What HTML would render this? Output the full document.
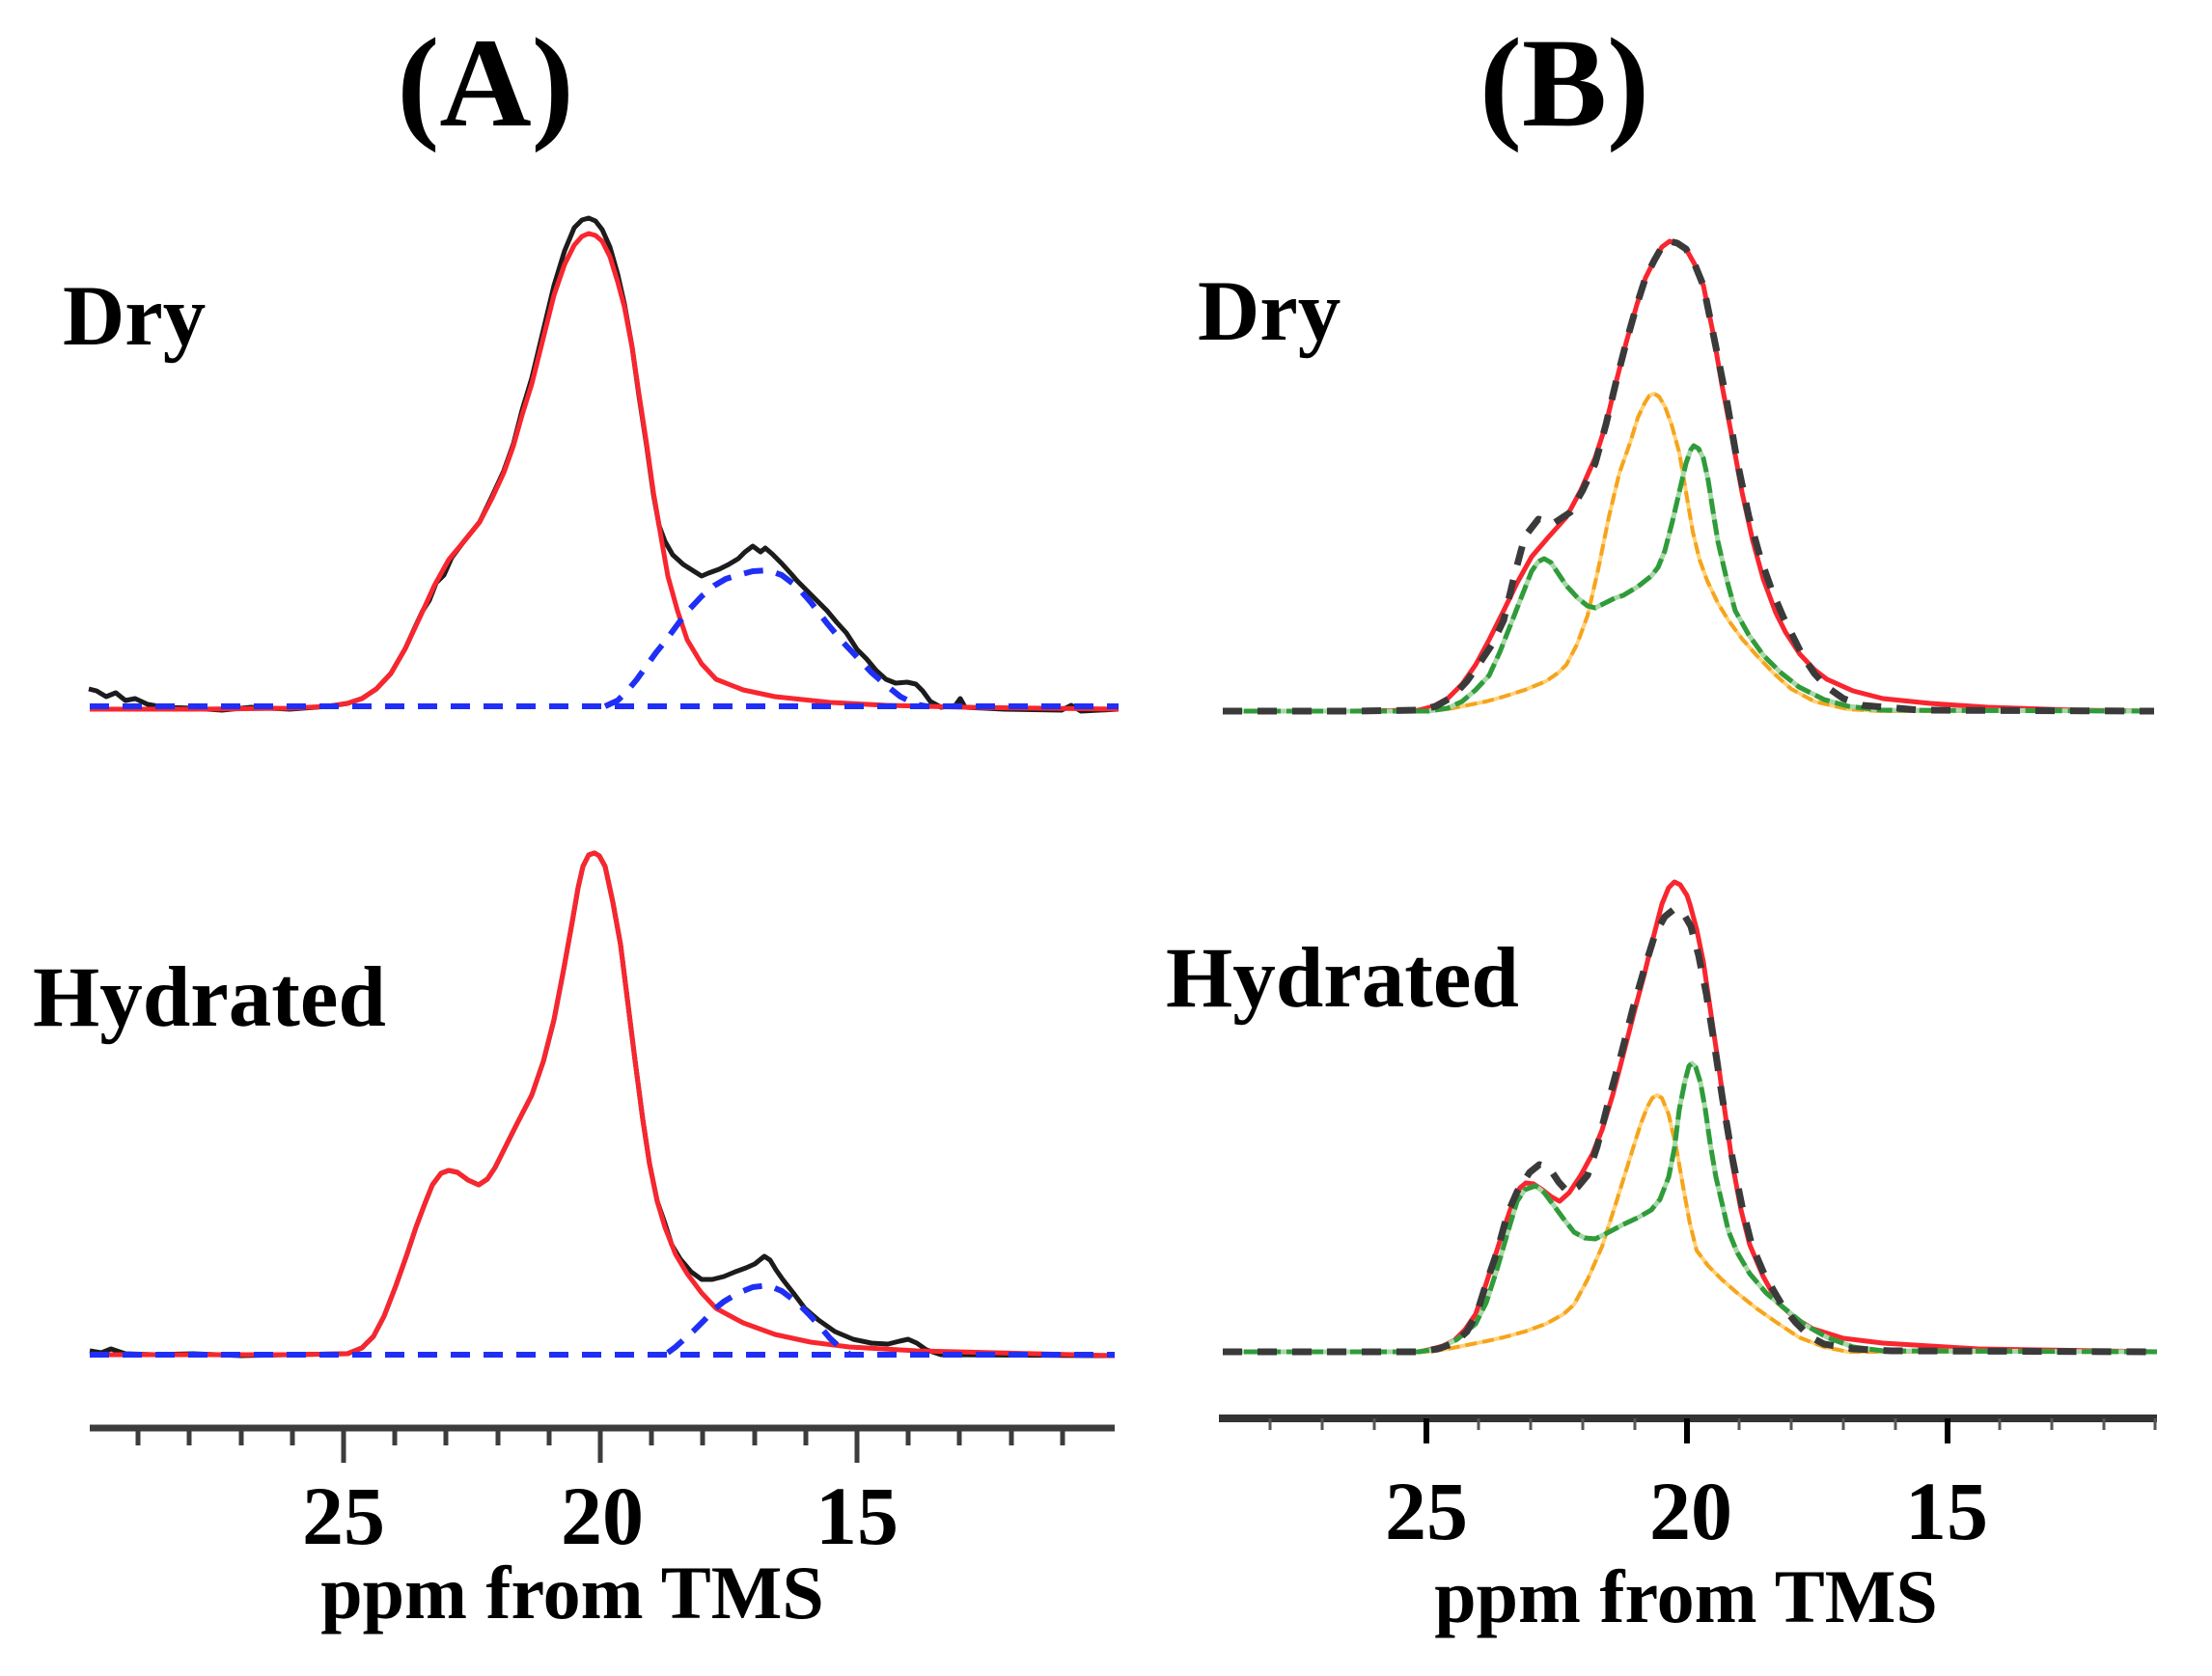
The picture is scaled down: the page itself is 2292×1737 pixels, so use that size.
<!DOCTYPE html>
<html>
<head>
<meta charset="utf-8">
<style>
html,body{margin:0;padding:0;background:#fff;}
svg{display:block;}
text{font-family:"Liberation Serif","Times New Roman",serif;font-weight:bold;fill:#000;}
</style>
</head>
<body>
<svg width="2292" height="1737" viewBox="0 0 2292 1737" xmlns="http://www.w3.org/2000/svg">
<rect width="2292" height="1737" fill="#fff"/>

<!-- Titles -->
<text x="503" y="130" font-size="132" text-anchor="middle">(A)</text>
<text x="1621" y="130" font-size="132" text-anchor="middle">(B)</text>

<!-- Labels -->
<text x="65" y="357" font-size="89">Dry</text>
<text x="1241" y="352" font-size="89">Dry</text>
<text x="34" y="1063" font-size="89">Hydrated</text>
<text x="1208" y="1043" font-size="89">Hydrated</text>

<!-- ============ PANEL A, DRY ============ -->
<polyline fill="none" stroke="#1c1c1c" stroke-width="5" stroke-linejoin="round" points="
92,714 100,716 110,722 120,718 130,726 140,724 153,730 170,733 200,734 230,736 260,733 300,735 340,732 360,729 375,724 390,714 405,698 420,672 430,650 438,633 445,622 452,604 460,596 468,578 480,562 497,541 510,514 522,488 532,460 541,425 551,392 563,342 574,296 585,260 595,236 603,228 610,226 617,229 624,238 632,256 640,284 647,315 655,360 662,410 670,462 677,512 683,545 689,561 697,575 708,585 719,592 727,597 734,594 745,590 755,585 765,579 772,572 780,566 788,572 793,568 800,574 810,584 820,595 826,602 836,612 846,622 857,633 867,645 877,656 888,673 898,683 908,695 918,704 928,708 940,707 949,709 956,716 964,727 975,733 990,731 995,724 1000,733 1040,735 1100,736 1110,731 1120,737 1159,735"/>
<polyline fill="none" stroke="#f8262f" stroke-width="5" stroke-linejoin="round" points="
93,735 200,735 300,734 340,732 360,729 375,724 390,714 405,698 420,672 435,640 450,607 465,580 480,562 497,541 510,516 522,490 532,462 541,430 551,398 563,350 574,306 585,274 595,254 603,245 610,242 617,244 624,250 632,266 640,292 647,318 655,360 662,408 670,460 677,510 685,557 692,597 702,633 712,663 727,688 742,704 770,715 803,722 860,728 918,731 1000,733 1159,735"/>
<line x1="93" y1="732" x2="1159" y2="732" stroke="#1f2ff5" stroke-width="6" stroke-dasharray="20 14"/>
<polyline fill="none" stroke="#1f2ff5" stroke-width="6" stroke-dasharray="20 14" stroke-linejoin="round" points="
627,732 640,726 650,716 660,704 670,690 680,676 689,665 700,650 712,634 727,618 740,607 752,600 765,596 780,592 796,591 810,596 826,608 840,624 857,646 872,664 888,681 903,697 918,710 933,722 949,730 960,732"/>

<!-- ============ PANEL A, HYDRATED ============ -->
<polyline fill="none" stroke="#1c1c1c" stroke-width="5" stroke-linejoin="round" points="
93,1400 105,1402 115,1398 130,1403 160,1404 200,1403 250,1405 300,1404 360,1403 375,1397 387,1385 398,1364 410,1333 421,1302 431,1272 440,1248 448,1228 457,1216 465,1213 474,1215 485,1223 496,1228 505,1222 513,1210 520,1196 535,1166 551,1135 563,1100 574,1057 584,1005 593,955 599,920 604,898 610,886 616,884 621,887 627,898 635,935 643,979 650,1035 658,1099 666,1160 673,1206 681,1245 689,1268 696,1290 705,1305 716,1318 727,1326 738,1326 750,1323 762,1318 773,1314 782,1310 792,1302 798,1306 804,1316 811,1326 822,1340 834,1356 848,1368 865,1380 884,1388 903,1392 920,1393 932,1390 941,1388 950,1392 960,1399 975,1404 1155,1405"/>
<polyline fill="none" stroke="#f8262f" stroke-width="5" stroke-linejoin="round" points="
93,1404 300,1404 360,1403 375,1397 387,1385 398,1364 410,1333 421,1302 431,1272 440,1248 448,1228 457,1216 465,1213 474,1215 485,1223 496,1228 505,1222 513,1210 520,1196 535,1166 551,1135 563,1100 574,1057 584,1005 593,955 599,920 604,898 610,886 616,884 621,887 627,898 635,935 643,979 650,1035 658,1099 666,1160 673,1206 681,1245 689,1272 700,1300 712,1320 727,1340 742,1356 770,1371 803,1383 840,1391 880,1396 950,1400 1155,1405"/>
<line x1="93" y1="1404" x2="1155" y2="1404" stroke="#1f2ff5" stroke-width="6" stroke-dasharray="20 14"/>
<polyline fill="none" stroke="#1f2ff5" stroke-width="6" stroke-dasharray="20 14" stroke-linejoin="round" points="
692,1402 700,1396 710,1387 719,1379 730,1368 740,1357 750,1349 765,1340 780,1334 796,1332 810,1338 826,1350 838,1362 849,1374 860,1387 872,1398 880,1403"/>

<!-- ============ PANEL A AXIS ============ -->
<line x1="93" y1="1480" x2="1155" y2="1480" stroke="#3c3c3c" stroke-width="7"/>
<g stroke="#3c3c3c" stroke-width="5">
<line x1="143" y1="1480" x2="143" y2="1498"/>
<line x1="196" y1="1480" x2="196" y2="1498"/>
<line x1="250" y1="1480" x2="250" y2="1498"/>
<line x1="303" y1="1480" x2="303" y2="1498"/>
<line x1="356" y1="1480" x2="356" y2="1516"/>
<line x1="409" y1="1480" x2="409" y2="1498"/>
<line x1="462" y1="1480" x2="462" y2="1498"/>
<line x1="516" y1="1480" x2="516" y2="1498"/>
<line x1="569" y1="1480" x2="569" y2="1498"/>
<line x1="622" y1="1480" x2="622" y2="1516"/>
<line x1="675" y1="1480" x2="675" y2="1498"/>
<line x1="728" y1="1480" x2="728" y2="1498"/>
<line x1="782" y1="1480" x2="782" y2="1498"/>
<line x1="835" y1="1480" x2="835" y2="1498"/>
<line x1="888" y1="1480" x2="888" y2="1516"/>
<line x1="941" y1="1480" x2="941" y2="1498"/>
<line x1="994" y1="1480" x2="994" y2="1498"/>
<line x1="1048" y1="1480" x2="1048" y2="1498"/>
<line x1="1101" y1="1480" x2="1101" y2="1498"/>
</g>
<text x="356" y="1600" font-size="86" text-anchor="middle">25</text>
<text x="624" y="1600" font-size="86" text-anchor="middle">20</text>
<text x="888" y="1600" font-size="86" text-anchor="middle">15</text>
<text x="593" y="1677" font-size="78" text-anchor="middle">ppm from TMS</text>

<!-- ============ PANEL B, DRY ============ -->
<polyline fill="none" stroke="#f8262f" stroke-width="5" stroke-linejoin="round" points="
1267,737 1400,737 1470,736 1485,732 1500,724 1515,709 1529,689 1543,663 1558,633 1572,604 1587,577 1605,556 1623,536 1638,508 1653,474 1664,440 1674,398 1685,355 1696,316 1705,288 1714,270 1722,256 1730,250 1738,252 1747,258 1756,274 1765,296 1775,345 1784,398 1795,455 1805,510 1816,560 1827,600 1840,635 1850,655 1865,678 1880,694 1893,704 1920,716 1951,724 2000,729 2060,733 2150,736 2232,737"/>
<polyline fill="none" stroke="#ffd27a" stroke-width="4" stroke-linejoin="round" points="
1267,737 1480,737 1500,735 1520,731 1540,727 1558,722 1580,715 1602,706 1615,697 1623,689 1634,668 1645,638 1656,590 1667,536 1678,490 1689,459 1697,433 1704,418 1709,410 1714,408 1719,411 1725,421 1732,440 1740,469 1747,510 1754,551 1761,580 1769,602 1780,625 1791,643 1805,662 1820,679 1838,698 1856,714 1880,727 1915,735 1950,737 2232,737"/>
<polyline fill="none" stroke="#f5a41c" stroke-width="4" stroke-dasharray="12 6" stroke-linejoin="round" points="
1267,737 1480,737 1500,735 1520,731 1540,727 1558,722 1580,715 1602,706 1615,697 1623,689 1634,668 1645,638 1656,590 1667,536 1678,490 1689,459 1697,433 1704,418 1709,410 1714,408 1719,411 1725,421 1732,440 1740,469 1747,510 1754,551 1761,580 1769,602 1780,625 1791,643 1805,662 1820,679 1838,698 1856,714 1880,727 1915,735 1950,737 2232,737"/>
<polyline fill="none" stroke="#a8d8a8" stroke-width="5" stroke-linejoin="round" points="
1267,737 1480,737 1500,734 1515,727 1529,715 1543,700 1554,676 1565,648 1576,620 1587,592 1594,582 1600,579 1607,583 1615,595 1623,607 1635,620 1645,628 1653,630 1663,625 1673,620 1682,617 1697,608 1711,597 1718,588 1725,571 1733,540 1740,510 1747,480 1752,466 1755,462 1760,465 1765,475 1770,498 1775,530 1780,561 1789,600 1798,633 1812,658 1827,679 1845,697 1864,712 1890,725 1915,732 1950,736 2232,737"/>
<polyline fill="none" stroke="#2f9b3a" stroke-width="5" stroke-dasharray="16 6" stroke-linejoin="round" points="
1267,737 1480,737 1500,734 1515,727 1529,715 1543,700 1554,676 1565,648 1576,620 1587,592 1594,582 1600,579 1607,583 1615,595 1623,607 1635,620 1645,628 1653,630 1663,625 1673,620 1682,617 1697,608 1711,597 1718,588 1725,571 1733,540 1740,510 1747,480 1752,466 1755,462 1760,465 1765,475 1770,498 1775,530 1780,561 1789,600 1798,633 1812,658 1827,679 1845,697 1864,712 1890,725 1915,732 1950,736 2232,737"/>
<polyline fill="none" stroke="#3a3a3a" stroke-width="7" stroke-dasharray="20 16" stroke-linejoin="round" points="
1267,737 1400,737 1470,736 1488,732 1505,722 1520,706 1534,686 1546,668 1558,643 1569,597 1580,556 1594,538 1609,543 1627,531 1640,508 1653,480 1664,440 1674,398 1685,355 1696,316 1705,288 1714,270 1722,256 1730,250 1738,252 1747,258 1756,274 1765,296 1777,355 1790,420 1800,478 1812,535 1824,578 1836,612 1848,640 1858,660 1868,680 1880,698 1893,712 1910,724 1930,731 1990,736 2232,737"/>

<!-- ============ PANEL B, HYDRATED ============ -->
<polyline fill="none" stroke="#f8262f" stroke-width="5" stroke-linejoin="round" points="
1267,1401 1470,1401 1480,1399 1495,1395 1507,1389 1518,1378 1529,1362 1540,1330 1551,1296 1560,1268 1569,1242 1575,1231 1581,1226 1589,1227 1598,1233 1607,1240 1616,1245 1626,1236 1638,1218 1650,1196 1660,1171 1671,1135 1682,1093 1693,1050 1704,1009 1713,972 1722,937 1729,920 1735,914 1741,917 1748,928 1751,937 1758,963 1765,997 1772,1045 1780,1099 1787,1150 1795,1206 1804,1254 1813,1290 1827,1323 1842,1350 1860,1366 1878,1377 1910,1387 1951,1392 2050,1398 2235,1401"/>
<polyline fill="none" stroke="#ffd27a" stroke-width="4" stroke-linejoin="round" points="
1267,1401 1480,1401 1500,1398 1520,1394 1540,1390 1558,1386 1580,1380 1602,1372 1620,1362 1631,1352 1645,1326 1660,1292 1675,1245 1689,1200 1700,1165 1707,1147 1712,1138 1717,1135 1722,1138 1729,1155 1737,1190 1744,1230 1751,1268 1758,1296 1770,1312 1784,1326 1800,1340 1820,1356 1840,1370 1864,1386 1890,1396 1915,1401 2235,1401"/>
<polyline fill="none" stroke="#f5a41c" stroke-width="4" stroke-dasharray="12 6" stroke-linejoin="round" points="
1267,1401 1480,1401 1500,1398 1520,1394 1540,1390 1558,1386 1580,1380 1602,1372 1620,1362 1631,1352 1645,1326 1660,1292 1675,1245 1689,1200 1700,1165 1707,1147 1712,1138 1717,1135 1722,1138 1729,1155 1737,1190 1744,1230 1751,1268 1758,1296 1770,1312 1784,1326 1800,1340 1820,1356 1840,1370 1864,1386 1890,1396 1915,1401 2235,1401"/>
<polyline fill="none" stroke="#a8d8a8" stroke-width="5" stroke-linejoin="round" points="
1267,1401 1470,1401 1490,1398 1510,1388 1529,1372 1540,1350 1551,1316 1562,1278 1572,1245 1580,1233 1591,1229 1600,1236 1609,1248 1620,1263 1631,1277 1642,1283 1653,1284 1667,1277 1682,1269 1697,1262 1711,1254 1720,1243 1729,1220 1735,1190 1740,1150 1746,1120 1750,1105 1753,1102 1757,1106 1762,1122 1767,1150 1772,1185 1778,1220 1785,1250 1791,1276 1800,1298 1813,1320 1830,1340 1849,1356 1870,1373 1893,1386 1920,1396 1951,1400 2235,1401"/>
<polyline fill="none" stroke="#2f9b3a" stroke-width="5" stroke-dasharray="16 6" stroke-linejoin="round" points="
1267,1401 1470,1401 1490,1398 1510,1388 1529,1372 1540,1350 1551,1316 1562,1278 1572,1245 1580,1233 1591,1229 1600,1236 1609,1248 1620,1263 1631,1277 1642,1283 1653,1284 1667,1277 1682,1269 1697,1262 1711,1254 1720,1243 1729,1220 1735,1190 1740,1150 1746,1120 1750,1105 1753,1102 1757,1106 1762,1122 1767,1150 1772,1185 1778,1220 1785,1250 1791,1276 1800,1298 1813,1320 1830,1340 1849,1356 1870,1373 1893,1386 1920,1396 1951,1400 2235,1401"/>
<polyline fill="none" stroke="#3a3a3a" stroke-width="7" stroke-dasharray="20 16" stroke-linejoin="round" points="
1267,1401 1470,1401 1490,1398 1507,1392 1520,1380 1530,1362 1540,1330 1551,1298 1562,1258 1572,1235 1585,1215 1595,1207 1605,1210 1615,1225 1625,1236 1635,1230 1645,1218 1655,1188 1667,1140 1680,1092 1692,1045 1705,1000 1715,968 1725,950 1735,942 1745,948 1752,960 1760,990 1768,1030 1776,1080 1785,1140 1795,1200 1805,1250 1815,1290 1827,1318 1838,1338 1848,1355 1860,1370 1875,1385 1890,1393 1920,1398 1960,1400 2235,1401"/>

<!-- ============ PANEL B AXIS ============ -->
<line x1="1263" y1="1470" x2="2235" y2="1470" stroke="#333" stroke-width="8"/>
<g stroke="#555" stroke-width="3">
<line x1="1316" y1="1470" x2="1316" y2="1482"/>
<line x1="1370" y1="1470" x2="1370" y2="1482"/>
<line x1="1424" y1="1470" x2="1424" y2="1482"/>
<line x1="1532" y1="1470" x2="1532" y2="1482"/>
<line x1="1586" y1="1470" x2="1586" y2="1482"/>
<line x1="1640" y1="1470" x2="1640" y2="1482"/>
<line x1="1694" y1="1470" x2="1694" y2="1482"/>
<line x1="1802" y1="1470" x2="1802" y2="1482"/>
<line x1="1856" y1="1470" x2="1856" y2="1482"/>
<line x1="1910" y1="1470" x2="1910" y2="1482"/>
<line x1="1964" y1="1470" x2="1964" y2="1482"/>
<line x1="2072" y1="1470" x2="2072" y2="1482"/>
<line x1="2126" y1="1470" x2="2126" y2="1482"/>
<line x1="2180" y1="1470" x2="2180" y2="1482"/>
<line x1="2233" y1="1470" x2="2233" y2="1482"/>
</g>
<g stroke="#000" stroke-width="6">
<line x1="1478" y1="1470" x2="1478" y2="1496"/>
<line x1="1748" y1="1470" x2="1748" y2="1496"/>
<line x1="2018" y1="1470" x2="2018" y2="1496"/>
</g>
<text x="1478" y="1595" font-size="86" text-anchor="middle">25</text>
<text x="1752" y="1595" font-size="86" text-anchor="middle">20</text>
<text x="2017" y="1595" font-size="86" text-anchor="middle">15</text>
<text x="1747" y="1681" font-size="78" text-anchor="middle">ppm from TMS</text>
</svg>
</body>
</html>
